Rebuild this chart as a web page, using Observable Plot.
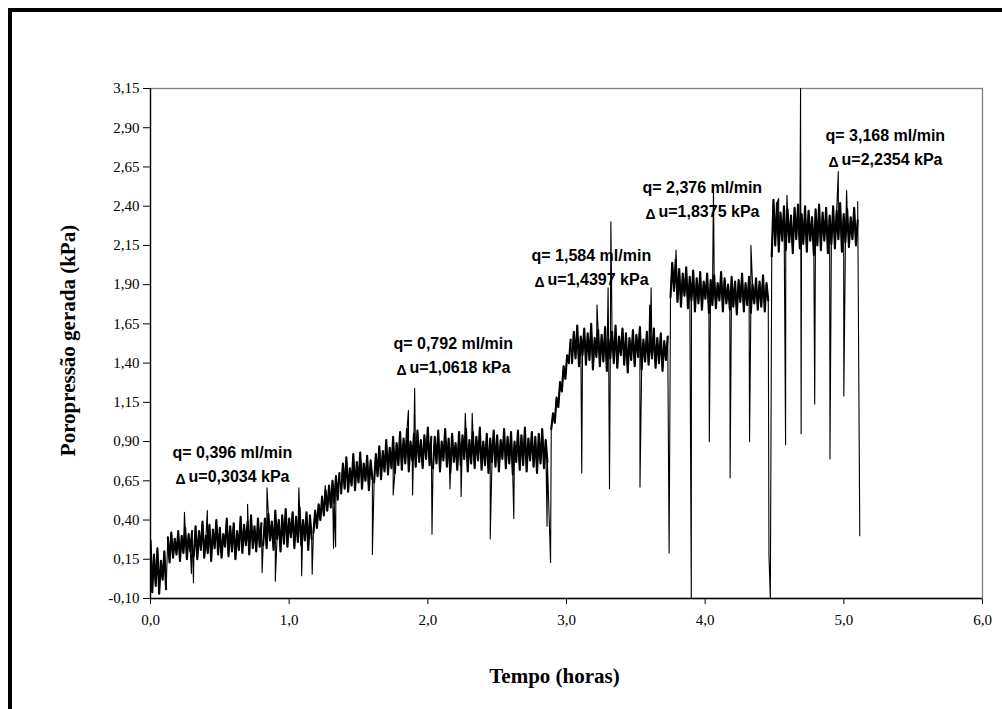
<!DOCTYPE html>
<html><head><meta charset="utf-8">
<script src="https://cdn.jsdelivr.net/npm/d3@7"></script>
<script src="https://cdn.jsdelivr.net/npm/@observablehq/plot@0.6"></script>
<style>
html,body{margin:0;padding:0;background:#fff;overflow:hidden;}
#wrap{position:relative;width:1002px;height:709px;overflow:hidden;background:#fff;}
#border{position:absolute;left:8px;top:8px;width:1100px;height:800px;border:4px solid #000;box-sizing:border-box;}
#chart{position:absolute;left:0;top:0;}
</style></head><body>
<div id="wrap"><div id="border"></div><div id="chart"></div></div>
<script>
// Axis ticks
const xTicks = [0, 1, 2, 3, 4, 5, 6];
const yTicks = [-0.10, 0.15, 0.40, 0.65, 0.90, 1.15, 1.40, 1.65, 1.90, 2.15, 2.40, 2.65, 2.90, 3.15];

// Sampled pore-pressure record (kPa), read segment by segment (start/end time in hours)
const segStart = [0.0, 0.125, 0.3125, 0.8125, 1.175, 1.375, 1.6125, 2.0375, 2.89, 3.04, 3.75, 4.48];
const segEnd   = [0.1125, 0.30, 0.80, 1.1625, 1.3625, 1.60, 2.025, 2.8625, 3.03, 3.73, 4.455, 5.10];
const band1 = [0.27, -0.06, 0.18, -0.02, 0.22, -0.07, 0.14, 0.02, 0.20, -0.04];
const band2 = [0.29, 0.13, 0.32, 0.16, 0.28, 0.18, 0.33, 0.14, 0.30, 0.19, 0.35, 0.15, 0.31, 0.20, 0.33];
const band3 = [0.17, 0.36, 0.15, 0.33, 0.21, 0.39, 0.16, 0.30, 0.19, 0.37, 0.14, 0.34, 0.22, 0.40, 0.18, 0.35, 0.16, 0.31, 0.23, 0.41,
               0.17, 0.36, 0.20, 0.38, 0.15, 0.33, 0.21, 0.42, 0.19, 0.37, 0.24, 0.39, 0.18, 0.43, 0.22, 0.36, 0.20, 0.41, 0.23, 0.38];
const band4 = [0.24, 0.41, 0.22, 0.44, 0.27, 0.39, 0.21, 0.46, 0.28, 0.40, 0.20, 0.43, 0.25, 0.47, 0.23, 0.41, 0.29, 0.45, 0.22, 0.42,
               0.26, 0.48, 0.24, 0.40, 0.27, 0.45, 0.21, 0.43, 0.28];
const band5 = [0.32, 0.46, 0.35, 0.50, 0.40, 0.55, 0.43, 0.59, 0.46, 0.62, 0.48, 0.65, 0.51, 0.68, 0.53, 0.70];
const band6 = [0.57, 0.76, 0.60, 0.80, 0.58, 0.73, 0.62, 0.82, 0.59, 0.77, 0.64, 0.83, 0.60, 0.76, 0.65, 0.81, 0.59, 0.78, 0.66];
const band7 = [0.64, 0.82, 0.68, 0.87, 0.66, 0.84, 0.71, 0.91, 0.69, 0.86, 0.73, 0.93, 0.70, 0.89, 0.75, 0.96, 0.72, 0.92, 0.76, 0.98,
               0.71, 0.90, 0.78, 0.95, 0.74, 0.97, 0.77, 0.91, 0.73, 0.94, 0.79, 0.99, 0.75, 0.93];
const band8 = [0.73, 0.93, 0.76, 0.97, 0.71, 0.90, 0.78, 0.98, 0.74, 0.92, 0.70, 0.95, 0.77, 0.89, 0.72, 0.96, 0.75, 0.94, 0.79, 0.98,
               0.71, 0.91, 0.76, 0.96, 0.73, 0.93, 0.78, 0.99, 0.72, 0.90, 0.75, 0.95, 0.70, 0.92, 0.77, 0.97, 0.74, 0.94, 0.71, 0.91,
               0.79, 0.98, 0.73, 0.93, 0.76, 0.96, 0.69, 0.90, 0.77, 0.97, 0.72, 0.94, 0.75, 0.99, 0.71, 0.92, 0.78, 0.96, 0.74, 0.93,
               0.70, 0.95, 0.76, 0.98, 0.73, 0.91, 0.77];
const band9 = [0.98, 1.08, 1.02, 1.18, 1.12, 1.28, 1.22, 1.38, 1.30, 1.45, 1.40, 1.55];
const band10 = [1.40, 1.60, 1.43, 1.64, 1.38, 1.57, 1.45, 1.62, 1.39, 1.59, 1.42, 1.65, 1.36, 1.56, 1.44, 1.61, 1.38, 1.58, 1.41, 1.63,
                1.35, 1.55, 1.43, 1.60, 1.40, 1.64, 1.37, 1.57, 1.45, 1.62, 1.39, 1.59, 1.34, 1.56, 1.42, 1.61, 1.38, 1.58, 1.44, 1.63,
                1.36, 1.55, 1.41, 1.60, 1.39, 1.57, 1.43, 1.62, 1.37, 1.56, 1.40, 1.59, 1.35, 1.54, 1.42, 1.57];
const band11 = [1.82, 2.04, 1.86, 2.06, 1.79, 2.00, 1.76, 1.97, 1.83, 2.01, 1.75, 1.95, 1.80, 1.99, 1.73, 1.94, 1.78, 1.98, 1.74, 1.92,
                1.81, 1.97, 1.72, 1.93, 1.77, 1.96, 1.75, 1.91, 1.80, 1.98, 1.73, 1.94, 1.78, 1.90, 1.74, 1.95, 1.76, 1.92, 1.71, 1.93,
                1.79, 1.97, 1.73, 1.91, 1.77, 1.95, 1.72, 1.90, 1.78, 1.94, 1.74, 1.92, 1.76, 1.96, 1.73, 1.91, 1.80];
const band12 = [2.08, 2.44, 2.15, 2.42, 2.11, 2.36, 2.18, 2.40, 2.12, 2.38, 2.17, 2.34, 2.10, 2.39, 2.19, 2.41, 2.13, 2.35, 2.16, 2.40,
                2.11, 2.37, 2.18, 2.33, 2.09, 2.38, 2.15, 2.41, 2.12, 2.36, 2.18, 2.39, 2.10, 2.34, 2.16, 2.40, 2.13, 2.37, 2.19, 2.42,
                2.11, 2.35, 2.17, 2.38, 2.14, 2.33, 2.19, 2.39, 2.15, 2.31];
const bands = [band1, band2, band3, band4, band5, band6, band7, band8, band9, band10, band11, band12];

// Isolated spikes (time in hours, value in kPa)
const spikeT = [0.245, 0.295, 0.31, 0.41, 0.70, 0.805, 0.84, 0.90, 1.07, 1.09, 1.166,
                1.26, 1.32, 1.335, 1.60, 1.75, 1.86, 1.89, 1.905, 2.03, 2.16, 2.24, 2.27, 2.32, 2.45, 2.62, 2.86, 2.885,
                3.11, 3.22, 3.30, 3.31, 3.32, 3.53, 3.60, 3.61, 3.74,
                3.79, 3.90, 4.03, 4.06, 4.18, 4.32, 4.33, 4.46, 4.47,
                4.53, 4.58, 4.59, 4.688, 4.692, 4.79, 4.90, 4.96, 5.00, 5.02, 5.10, 5.115];
const spikeV = [0.45, 0.06, 0.00, 0.46, 0.50, 0.065, 0.605, 0.01, 0.605, 0.045, 0.055,
                0.62, 0.22, 0.23, 0.18, 0.56, 1.10, 0.56, 1.24, 0.31, 0.60, 0.55, 1.08, 1.08, 0.28, 0.41, 0.36, 0.13,
                0.70, 1.77, 1.88, 0.60, 2.30, 0.61, 1.77, 1.88, 0.19,
                2.12, -0.10, 0.90, 2.53, 0.67, 0.90, 2.15, 0.18, -0.10,
                2.45, 0.88, 2.47, 3.15, 0.95, 1.14, 0.79, 2.62, 1.19, 2.50, 2.43, 0.30];

// Annotations
const annoQ  = ["q= 0,396 ml/min", "q= 0,792 ml/min", "q= 1,584 ml/min", "q= 2,376 ml/min", "q= 3,168 ml/min"];
const annoDu = ["u=0,3034 kPa", "u=1,0618 kPa", "u=1,4397 kPa", "u=1,8375 kPa", "u=2,2354 kPa"];
const annoT  = [0.159, 1.752, 2.748, 3.548, 4.868];
const annoV  = [0.830, 1.525, 2.086, 2.519, 2.850];

// Build the line tables
const bandRows = [];
bands.forEach((vals, k) => {
  const t0 = segStart[k], t1 = segEnd[k];
  vals.forEach((v, i) => bandRows.push({t: t0 + (t1 - t0) * i / (vals.length - 1), v, seg: k}));
});
const series = bandRows.map(d => ({t: d.t, v: d.v}));
spikeT.forEach((t, i) => series.push({t, v: spikeV[i]}));
series.sort((a, b) => a.t - b.t);

const anno = annoQ.map((q, i) => ({q, du: annoDu[i], t: annoT[i], v: annoV[i]}));

const fmt1 = d => d.toFixed(1).replace(".", ",");
const fmt2 = d => d.toFixed(2).replace(".", ",");
const sans = "'Liberation Sans', Arial, sans-serif";
const serif = "'Liberation Serif', 'Times New Roman', serif";

const chart = Plot.plot({
  width: 1002, height: 709,
  marginLeft: 150, marginRight: 20, marginTop: 88, marginBottom: 111,
  style: {background: "transparent", fontFamily: serif, fontSize: "15px", color: "#000"},
  x: {domain: [0, 6], ticks: xTicks, tickFormat: fmt1, tickSize: 6, tickPadding: 10, label: null},
  y: {domain: [-0.10, 3.15], ticks: yTicks, tickFormat: fmt2, tickSize: 7, tickPadding: 4, label: null},
  marks: [
    Plot.frame({stroke: "#808080", strokeWidth: 1.3}),
    Plot.line(bandRows, {x: "t", y: "v", z: "seg", stroke: "#000", strokeWidth: 2.1, clip: true}),
    Plot.line(series, {x: "t", y: "v", stroke: "#000", strokeWidth: 1.1, clip: true}),
    Plot.ruleX([0], {stroke: "#000", strokeWidth: 1.3}),
    Plot.ruleY([-0.10], {stroke: "#000", strokeWidth: 1.3}),
    Plot.text(anno, {x: "t", y: "v", text: "q", textAnchor: "start", lineAnchor: "middle",
      fontFamily: sans, fontWeight: "bold", fontSize: 16, fill: "#000"}),
    Plot.text(anno, {x: "t", y: "v", text: d => "Δ", textAnchor: "start", lineAnchor: "middle",
      dx: 3, dy: 27, fontFamily: sans, fontWeight: "bold", fontSize: 14, fill: "#000"}),
    Plot.text(anno, {x: "t", y: "v", text: "du", textAnchor: "start", lineAnchor: "middle",
      dx: 16, dy: 24, fontFamily: sans, fontWeight: "bold", fontSize: 16, fill: "#000"}),
    Plot.text(["Tempo (horas)"], {text: d => d, frameAnchor: "bottom", textAnchor: "middle", lineAnchor: "middle", dx: -12, dy: 78,
      fontFamily: serif, fontWeight: "bold", fontSize: 21, fill: "#000"}),
    Plot.text(["Poropressão gerada (kPa)"], {text: d => d, frameAnchor: "left", textAnchor: "middle", lineAnchor: "middle", rotate: -90,
      dx: -82, dy: -3, fontFamily: serif, fontWeight: "bold", fontSize: 21, fill: "#000"})
  ]
});
document.getElementById("chart").appendChild(chart);
</script>
</body></html>
